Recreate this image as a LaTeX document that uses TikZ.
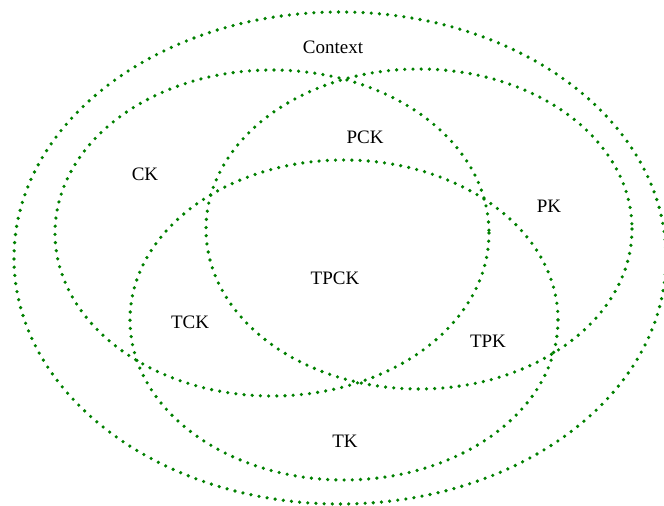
\documentclass[tikz,border=0pt]{standalone}
\usepackage{fontspec}
\setmainfont{Liberation Serif}
\tikzset{
  ring/.style={draw=green!50!black, line width=3.6pt, line cap=round,
    dash pattern=on 0pt off 8.2pt},
  lbl/.style={font=\fontsize{19}{21}\selectfont, inner sep=0pt}
}
\begin{document}
\begin{tikzpicture}[x=1pt, y=-1pt]
  \useasboundingbox (0,0) rectangle (664,506); % page frame

  % Context and the three knowledge rings
  \draw[ring] (340,258) ellipse (326 and 246); % Context
  \draw[ring] (272,233) ellipse (217 and 163); % CK
  \draw[ring] (419,229) ellipse (213 and 160); % PK
  \draw[ring] (344,320) ellipse (214 and 160); % TK

  % Labels
  \node[lbl] (context) at (333,47) {Context};
  \node[lbl] (pck) at (365,137) {PCK};
  \node[lbl] (ck) at (145,174) {CK};
  \node[lbl] (pk) at (549,206) {PK};
  \node[lbl] (tpck) at (335,278) {TPCK};
  \node[lbl] (tck) at (190,322) {TCK};
  \node[lbl] (tpk) at (488,341) {TPK};
  \node[lbl] (tk) at (345,441) {TK};
\end{tikzpicture}
\end{document}
